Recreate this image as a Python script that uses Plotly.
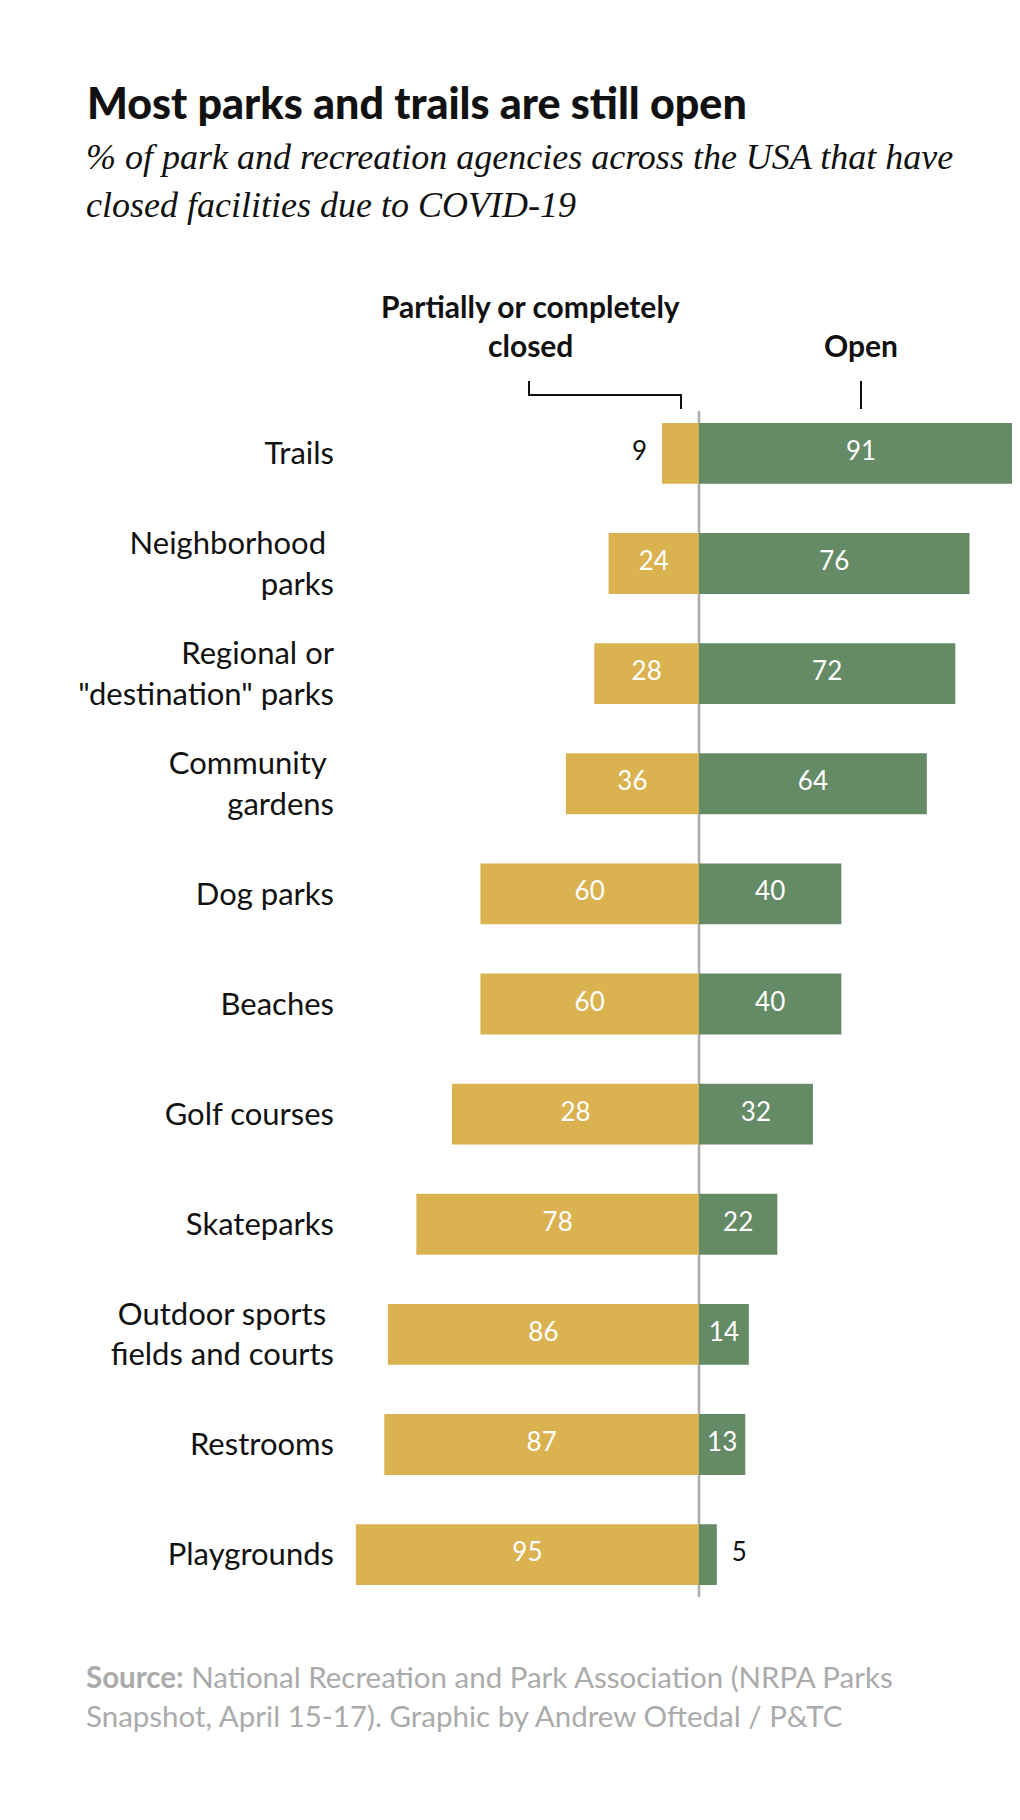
import plotly.graph_objects as go

# ---------------- data ----------------
categories = [
    "Trails",
    "Neighborhood\u00a0<br>parks",
    "Regional or<br>\"destination\" parks",
    "Community\u00a0<br>gardens",
    "Dog parks",
    "Beaches",
    "Golf courses",
    "Skateparks",
    "Outdoor sports\u00a0<br>fields and courts",
    "Restrooms",
    "Playgrounds",
]
closed_values = [9, 24, 28, 36, 60, 60, 68, 78, 86, 87, 95]
closed_labels = ["9", "24", "28", "36", "60", "60", "28", "78", "86", "87", "95"]
open_values = [91, 76, 72, 64, 40, 40, 32, 22, 14, 13, 5]
open_labels = ["91", "76", "72", "64", "40", "40", "32", "22", "14", "13", "5"]

# ---------------- layout constants ----------------
BODY = 8                     # default page margin around the figure
W, H = 1020 - BODY, 1820 - 2 * BODY
# target positions below are given in page pixels
PLOT_L, PLOT_R, PLOT_T, PLOT_B = 345, 1020, 411, 1597
ML, MR = PLOT_L - BODY, 0
MT, MB = PLOT_T - BODY, H - (PLOT_B - BODY)
UNIT = 3.56          # px per percentage point
CX = 699             # page pixel of zero line
YELLOW_OFF = 1.4     # yellow bars extend slightly past their value (as in original)
PAD = 4.2            # outside-label gap (units)
YELLOW = "#DBB250"
GREEN = "#648B66"
SANS = "Lato"
SERIF = "Liberation Serif"

PW, PH = PLOT_R - PLOT_L, PLOT_B - PLOT_T


def xdat(px):
    return (px - CX) / UNIT


def xp(px):
    return (px - PLOT_L) / PW


def yp(py):
    return (PLOT_B - py) / PH


fig = go.Figure()

yellow_x = [-(v + YELLOW_OFF) for v in closed_values]
fig.add_trace(go.Bar(y=categories, x=yellow_x, orientation="h", marker=dict(color=YELLOW, line=dict(width=0)),
                     width=0.553, hoverinfo="skip", name="closed"))
fig.add_trace(go.Bar(y=categories, x=open_values, orientation="h", marker=dict(color=GREEN, line=dict(width=0)),
                     width=0.553, hoverinfo="skip", name="open"))

# value labels
yl_in_x, yl_in_y, yl_in_t = [], [], []
yl_out_x, yl_out_y, yl_out_t = [], [], []
for c, v, t in zip(categories, closed_values, closed_labels):
    if v < 15:
        yl_out_x.append(-(v + YELLOW_OFF) - PAD); yl_out_y.append(c); yl_out_t.append(t)
    else:
        yl_in_x.append(-(v + YELLOW_OFF) / 2); yl_in_y.append(c); yl_in_t.append(t)
gl_in_x, gl_in_y, gl_in_t = [], [], []
gl_out_x, gl_out_y, gl_out_t = [], [], []
for c, v, t in zip(categories, open_values, open_labels):
    if v < 10:
        gl_out_x.append(v + PAD); gl_out_y.append(c); gl_out_t.append(t)
    else:
        gl_in_x.append(v / 2); gl_in_y.append(c); gl_in_t.append(t)

white_font = dict(family=SANS, size=26, color="white")
dark_font = dict(family=SANS, size=26, color="#111111")
fig.add_trace(go.Scatter(x=yl_in_x + gl_in_x, y=yl_in_y + gl_in_y, text=yl_in_t + gl_in_t, mode="text",
                         textposition="middle center", textfont=white_font, hoverinfo="skip", cliponaxis=False))
fig.add_trace(go.Scatter(x=yl_out_x, y=yl_out_y, text=yl_out_t, mode="text",
                         textposition="middle left", textfont=dark_font, hoverinfo="skip", cliponaxis=False))
fig.add_trace(go.Scatter(x=gl_out_x, y=gl_out_y, text=gl_out_t, mode="text",
                         textposition="middle right", textfont=dark_font, hoverinfo="skip", cliponaxis=False))

# zero line
fig.add_shape(type="line", xref="x", yref="paper", x0=0, x1=0, y0=0, y1=1,
              line=dict(color="#ABABAB", width=2.5), layer="below")

# bracket for "closed" header and tick for "Open"
blk = dict(color="#111111", width=2)
fig.add_shape(type="path", xref="x", yref="paper",
              path=f"M {xdat(529)} {yp(381)} L {xdat(529)} {yp(395)} L {xdat(681)} {yp(395)} L {xdat(681)} {yp(409)}",
              line=blk)
fig.add_shape(type="line", xref="x", yref="paper", x0=xdat(861), x1=xdat(861), y0=yp(381), y1=yp(409), line=blk)

ann = []
hdr_font = dict(family=SANS, size=30, color="#111", weight="bold")
# headers
ann.append(dict(text="Partially or completely", x=xdat(530), y=yp(306), xref="x", yref="paper",
                xanchor="center", yanchor="middle", showarrow=False, font=hdr_font))
ann.append(dict(text="closed", x=xdat(530), y=yp(345), xref="x", yref="paper",
                xanchor="center", yanchor="middle", showarrow=False, font=hdr_font))
ann.append(dict(text="Open", x=xdat(861), y=yp(345), xref="x", yref="paper",
                xanchor="center", yanchor="middle", showarrow=False, font=hdr_font))
# title & subtitle
ann.append(dict(text="Most parks and trails are still open", x=xp(85), y=yp(102), xref="paper", yref="paper",
                xanchor="left", yanchor="middle", showarrow=False,
                font=dict(family=SANS, size=43, color="#111", weight=900)))
ann.append(dict(text="<i>% of park and recreation agencies across the USA that have</i>", x=xp(84), y=yp(157),
                xref="paper", yref="paper", xanchor="left", yanchor="middle", showarrow=False,
                font=dict(family=SERIF, size=36, color="#111")))
ann.append(dict(text="<i>closed facilities due to COVID-19</i>", x=xp(84), y=yp(205),
                xref="paper", yref="paper", xanchor="left", yanchor="middle", showarrow=False,
                font=dict(family=SERIF, size=36, color="#111")))
# source
src_font = dict(family=SANS, size=29.5, color="#ABABAB")
ann.append(dict(text="<b>Source:</b> National Recreation and Park Association (NRPA Parks", x=xp(84), y=yp(1676),
                xref="paper", yref="paper", xanchor="left", yanchor="middle", showarrow=False, font=src_font))
ann.append(dict(text="Snapshot, April 15-17). Graphic by Andrew Oftedal / P&amp;TC", x=xp(84), y=yp(1715),
                xref="paper", yref="paper", xanchor="left", yanchor="middle", showarrow=False, font=src_font))

fig.update_layout(
    width=W, height=H,
    margin=dict(l=ML, r=MR, t=MT, b=MB, pad=0),
    paper_bgcolor="white", plot_bgcolor="white",
    barmode="overlay", showlegend=False,
    annotations=ann,
    xaxis=dict(range=[xdat(PLOT_L), xdat(PLOT_R)], showgrid=False, zeroline=False, showticklabels=False,
               showline=False, fixedrange=True),
    yaxis=dict(type="category", categoryorder="array", categoryarray=categories,
               range=[10.385, -0.385], showgrid=False, zeroline=False, showline=False, ticks="",
               ticklabelstandoff=10, tickfont=dict(family=SANS, size=31, color="#111111"), fixedrange=True),
)

fig.write_html("out.html")
